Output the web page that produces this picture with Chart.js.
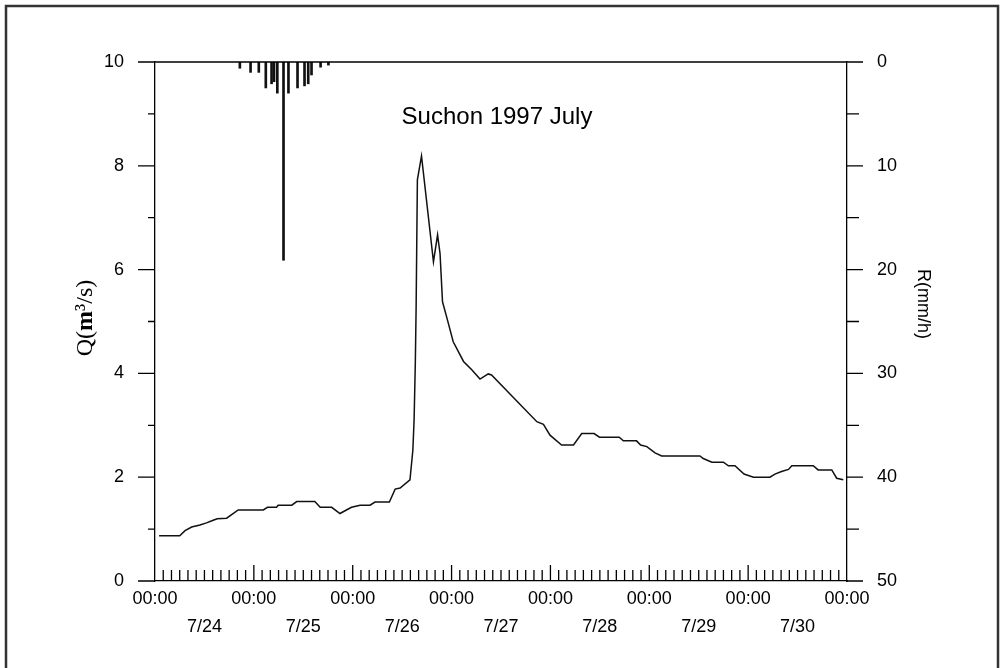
<!DOCTYPE html>
<html>
<head>
<meta charset="utf-8">
<script src="https://cdn.jsdelivr.net/npm/chart.js@4"></script>
<style>
  html, body { margin: 0; padding: 0; background: #fff; }
  #wrap { width: 1002px; height: 668px; position: relative; }
</style>
</head>
<body>
<div id="wrap"><canvas id="hydro"></canvas></div>
<script>
// hours since 7/24 00:00
const qHours = [1, 6, 7.3, 8.9, 10.9, 12.5, 13.8, 15.1, 17.4, 20.2, 26.3, 27.3, 29.5, 29.9, 33.2, 34.4, 38.8, 40.1, 42.9, 44.9,
    47.7, 49.8, 52.2, 53.4, 56.9, 58.3, 59.5, 61.9, 62.6, 62.9, 63.2, 63.4, 63.7, 64.7, 67.6, 68.6, 69.2, 69.8, 70.8, 72.4,
    74.9, 76.9, 78.9, 80.9, 81.7, 92.7, 94.3, 95.9, 98.7, 101.6, 103.6, 106.6, 107.9, 112.7, 113.7, 116.9, 117.9, 119.4, 121.4, 123,
    132.3, 133.1, 135.2, 138, 139.2, 140.8, 143, 145.3, 149.3, 150.5, 152.1, 153.8, 154.6, 159.8, 161, 164.3, 165.5, 167.1];
const qValues = [0.87, 0.87, 0.97, 1.04, 1.08, 1.12, 1.16, 1.20, 1.21, 1.37, 1.37, 1.42, 1.42, 1.46, 1.46, 1.53, 1.53, 1.42, 1.42, 1.30,
    1.42, 1.46, 1.46, 1.52, 1.52, 1.77, 1.79, 1.95, 2.52, 3.1, 4.2, 5.3, 7.73, 8.19, 6.15, 6.67, 6.31, 5.38, 5.09, 4.61,
    4.23, 4.07, 3.89, 3.99, 3.97, 3.07, 3.02, 2.81, 2.62, 2.62, 2.84, 2.84, 2.77, 2.77, 2.70, 2.70, 2.62, 2.59, 2.47, 2.41,
    2.41, 2.36, 2.29, 2.29, 2.22, 2.22, 2.06, 2.0, 2.0, 2.06, 2.11, 2.15, 2.22, 2.22, 2.14, 2.14, 1.98, 1.95];

const rainHours = [20.6, 23.2, 25.2, 26.9, 28.3, 28.9, 29.7, 31.2, 32.4, 34.6, 36.3, 37.2, 38.0, 40.2, 42.1];
const rainValues = [0.6, 1.0, 1.0, 2.5, 2.1, 1.9, 3.0, 19.1, 3.0, 2.5, 2.3, 2.1, 1.25, 0.5, 0.3];

const dayLabels = ['7/24', '7/25', '7/26', '7/27', '7/28', '7/29', '7/30'];
const clockLabel = '00:00';
const chartTitle = 'Suchon 1997 July';

const sans = "'Liberation Sans', Arial, sans-serif";
const serif = "'Liberation Serif', 'Times New Roman', serif";

const decorPlugin = {
    id: 'decor',
    beforeDraw(chart) {
        const c = chart.ctx;
        c.save();
        c.fillStyle = '#fff';
        c.fillRect(0, 0, chart.width, chart.height);
        c.strokeStyle = '#333';
        c.lineWidth = 2.5;
        c.strokeRect(6, 6, 992, 690);
        c.restore();
    },
    afterDraw(chart) {
        const c = chart.ctx;
        const x = chart.scales.x, y = chart.scales.y, y1 = chart.scales.y1;
        const a = chart.chartArea;
        c.save();
        c.strokeStyle = '#000';
        c.lineWidth = 1.3;
        c.beginPath();
        // top line (rain zero)
        c.moveTo(a.left, a.top);
        c.lineTo(a.right, a.top);
        // x ticks every 2 hours, inward
        for (let h = 2; h < 168; h += 2) {
            const px = x.getPixelForValue(h);
            const len = h % 24 === 0 ? 16 : 11;
            c.moveTo(px, a.bottom);
            c.lineTo(px, a.bottom - len);
        }
        // left ticks
        for (let v = 0; v <= 10; v++) {
            const py = y.getPixelForValue(v);
            c.moveTo(a.left, py);
            c.lineTo(a.left - (v % 2 === 0 ? 17 : 7), py);
        }
        // right ticks
        for (let v = 0; v <= 50; v += 5) {
            const py = y1.getPixelForValue(v);
            c.moveTo(a.right, py);
            c.lineTo(a.right + (v % 10 === 0 ? 16 : 12), py);
        }
        c.stroke();

        c.fillStyle = '#000';
        c.font = '24px ' + sans;
        c.textAlign = 'center';
        c.textBaseline = 'alphabetic';
        c.fillText(chartTitle, 497, 124);

        // Q(m³/s), bold m
        c.save();
        c.translate(92, 318);
        c.rotate(-Math.PI / 2);
        c.textAlign = 'left';
        const parts = [['Q(', '24px ' + serif], ['m', 'bold 24px ' + serif], ['\u00b3', '24px ' + serif], ['/s)', '24px ' + serif]];
        let total = 0;
        parts.forEach(p => { c.font = p[1]; total += c.measureText(p[0]).width; });
        let cx = -total / 2;
        parts.forEach(p => { c.font = p[1]; c.fillText(p[0], cx, 0); cx += c.measureText(p[0]).width; });
        c.restore();

        c.save();
        c.translate(918, 304);
        c.rotate(Math.PI / 2);
        c.font = '18px ' + sans;
        c.textAlign = 'center';
        c.textBaseline = 'alphabetic';
        c.fillText('R(mm/h)', 0, 0);
        c.restore();
        c.restore();
    }
};

const ctx = document.getElementById('hydro').getContext('2d');
new Chart(ctx, {
    type: 'line',
    data: {
        datasets: [
            {
                type: 'line',
                label: 'Q',
                data: qHours.map((h, i) => ({ x: h, y: qValues[i] })),
                borderColor: '#111',
                borderWidth: 1.5,
                pointRadius: 0,
                tension: 0,
                yAxisID: 'y'
            },
            {
                type: 'bar',
                label: 'R',
                data: rainHours.map((h, i) => ({ x: h, y: rainValues[i] })),
                backgroundColor: '#111',
                barThickness: 2,
                yAxisID: 'y1'
            }
        ]
    },
    options: {
        responsive: true,
        maintainAspectRatio: false,
        animation: false,
        layout: { padding: { top: 62, left: 0, right: 0, bottom: 0 } },
        plugins: {
            legend: { display: false },
            tooltip: { enabled: false }
        },
        scales: {
            x: {
                type: 'linear',
                min: 0,
                max: 168,
                offset: false,
                afterFit: s => { s.height = 87; },
                grid: { display: false, drawTicks: false },
                border: { display: true, color: '#000', width: 1.3 },
                ticks: {
                    stepSize: 12,
                    autoSkip: false,
                    maxRotation: 0,
                    padding: 4,
                    color: '#000',
                    font: { family: sans, size: 18, lineHeight: 1.55 },
                    callback: v => (v % 24 === 0 ? clockLabel : ['', dayLabels[Math.floor(v / 24)] || ''])
                }
            },
            y: {
                position: 'left',
                min: 0,
                max: 10,
                afterFit: s => { s.width = 155; },
                grid: { display: false, drawTicks: false },
                border: { display: true, color: '#000', width: 1.3 },
                ticks: { stepSize: 2, padding: 31, color: '#000', font: { family: sans, size: 18 } }
            },
            y1: {
                position: 'right',
                min: 0,
                max: 50,
                reverse: true,
                afterFit: s => { s.width = 155; },
                grid: { display: false, drawTicks: false },
                border: { display: true, color: '#000', width: 1.3 },
                ticks: { stepSize: 10, padding: 30, color: '#000', font: { family: sans, size: 18 } }
            }
        }
    },
    plugins: [decorPlugin]
});
</script>
</body>
</html>
